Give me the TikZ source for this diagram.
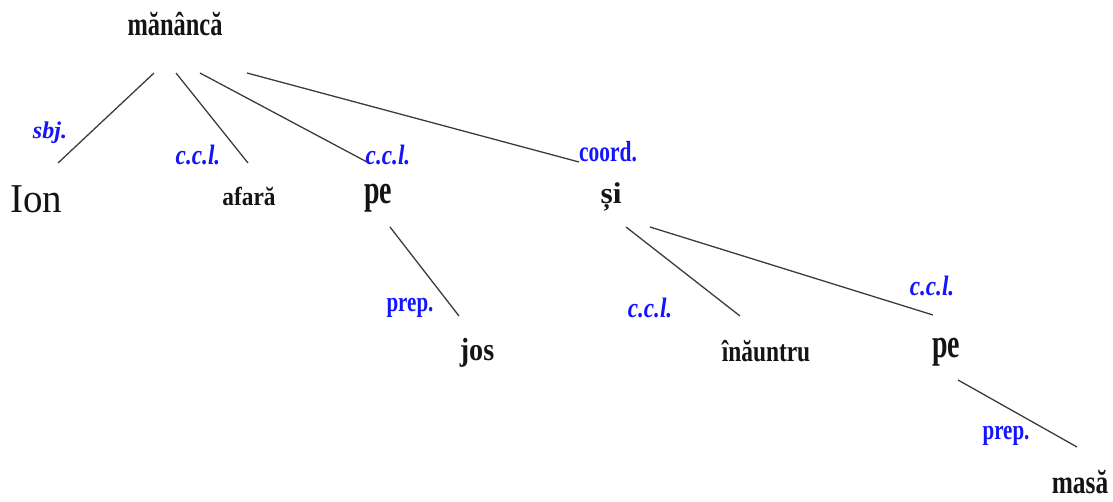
\documentclass[tikz,border=0pt]{standalone}
\usepackage{fontspec}
\usepackage{graphicx}
\setmainfont{Liberation Serif}
\definecolor{lblblue}{RGB}{20,20,255}
\definecolor{linegray}{RGB}{60,60,60}
\definecolor{wordblack}{RGB}{20,20,20}
\newcommand\wtxt[3]{\fontsize{#1}{#1}\selectfont\scalebox{#2}[1]{#3}}
\tikzset{
  word/.style={anchor=base, inner sep=0pt, text=wordblack, font=\bfseries},
  plainword/.style={anchor=base, inner sep=0pt, text=wordblack},
  lbl/.style={anchor=base, inner sep=0pt, text=lblblue, font=\bfseries},
  lbli/.style={anchor=base, inner sep=0pt, text=lblblue, font=\bfseries\itshape},
  edge/.style={draw=linegray, line width=1.3pt}
}
\begin{document}
\begin{tikzpicture}[x=1pt,y=-1pt]
\useasboundingbox (0,0) rectangle (1113,501);
% words
\node[word] (m) at (175,35) {\wtxt{33}{0.74}{mănâncă}};
\node[plainword] (ion) at (36,212) {\wtxt{41}{0.95}{Ion}};
\node[word] (afara) at (249,205) {\wtxt{26}{0.9}{afară}};
\node[word] (pe1) at (378,203) {\wtxt{41}{0.68}{pe}};
\node[word] (si) at (611,203) {\wtxt{30}{1.05}{și}};
\node[word] (jos) at (477,360) {\wtxt{32}{0.88}{jos}};
\node[word] (inauntru) at (766,361) {\wtxt{30}{0.78}{înăuntru}};
\node[word] (pe2) at (946,357) {\wtxt{41}{0.68}{pe}};
\node[word] (masa) at (1080,493) {\wtxt{33}{0.77}{masă}};
% labels
\node[lbli] (lsbj) at (50,138) {\wtxt{24}{1.0}{sbj.}};
\node[lbli] (lccl1) at (198,164) {\wtxt{28}{0.83}{c.c.l.}};
\node[lbli] (lccl2) at (388,164) {\wtxt{28}{0.83}{c.c.l.}};
\node[lbl] (lcoord) at (608,161) {\wtxt{29}{0.74}{coord.}};
\node[lbl] (lprep1) at (410,311) {\wtxt{28}{0.75}{prep.}};
\node[lbli] (lccl3) at (650,317) {\wtxt{28}{0.83}{c.c.l.}};
\node[lbli] (lccl4) at (932,295) {\wtxt{28}{0.83}{c.c.l.}};
\node[lbl] (lprep2) at (1006,439) {\wtxt{28}{0.75}{prep.}};
% connector end points
\coordinate (mA) at (154,73);
\coordinate (mB) at (176,73);
\coordinate (mC) at (200,73);
\coordinate (mD) at (247,73);
\coordinate (ionT) at (58,163);
\coordinate (afaraT) at (248,163);
\coordinate (pe1T) at (367,162);
\coordinate (siT) at (579,162);
\coordinate (pe1B) at (390,227);
\coordinate (josT) at (459,316);
\coordinate (siB1) at (626,227);
\coordinate (siB2) at (650,227);
\coordinate (inauntruT) at (740,316);
\coordinate (pe2T) at (933,315);
\coordinate (pe2B) at (958,380);
\coordinate (masaT) at (1077,447);
% connectors
\draw[edge] (mA) -- (ionT);
\draw[edge] (mB) -- (afaraT);
\draw[edge] (mC) -- (pe1T);
\draw[edge] (mD) -- (siT);
\draw[edge] (pe1B) -- (josT);
\draw[edge] (siB1) -- (inauntruT);
\draw[edge] (siB2) -- (pe2T);
\draw[edge] (pe2B) -- (masaT);
\end{tikzpicture}
\end{document}
